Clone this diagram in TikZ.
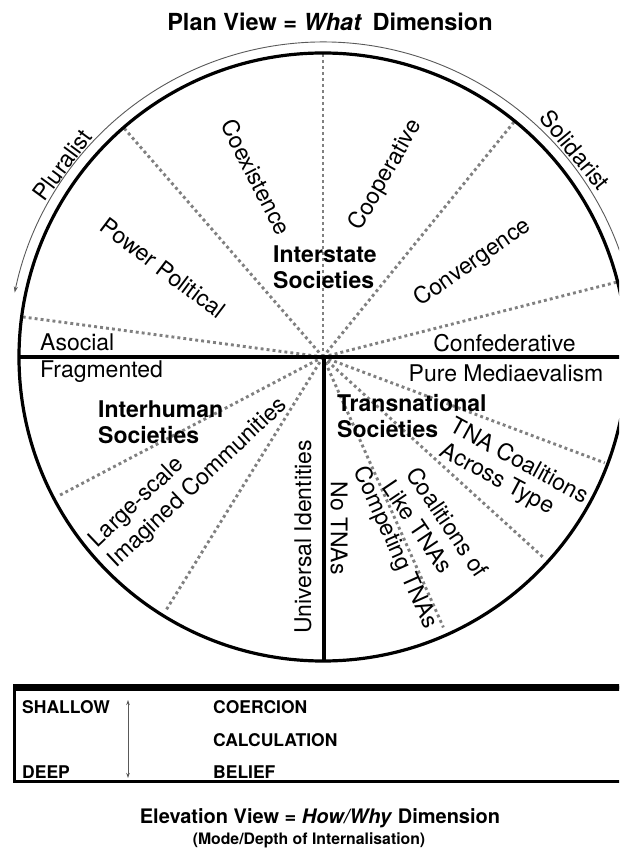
\documentclass[tikz,border=0pt]{standalone}
\usepackage{fontspec}
\setmainfont{TeX Gyre Heros}
\usetikzlibrary{arrows.meta}
\begin{document}
\begin{tikzpicture}[x=1pt,y=1pt,
  lbl/.style={inner sep=0pt, font=\fontsize{23}{27}\selectfont},
  grp/.style={inner sep=0pt, align=left, font=\fontsize{23}{26}\selectfont\bfseries},
  spoke/.style={draw=black!50, line width=2.9pt, dash pattern=on 2.9pt off 3.1pt},
  heavy/.style={line width=4.5pt},
  rim/.style={line width=3.2pt},
  thinarrow/.style={draw=black!65, line width=0.9pt},
  boxtxt/.style={inner sep=0pt, anchor=west, font=\fontsize{17.5}{20}\selectfont\bfseries},
  title/.style={inner sep=0pt, font=\fontsize{23.5}{27}\selectfont\bfseries}]
\useasboundingbox (-323,357) rectangle (296,-504);
\clip (-323,357) rectangle (296,-504);
\coordinate (C) at (0,0);
% spokes
\foreach \a/\r [count=\i] in {14.3/303, 50.9/303, 90/303, 131/303, 172.4/303, 207.7/298, 238.2/298, -20.6/301, -42.3/299, -66/296}
  {\coordinate (s\i) at (\a:\r); \draw[spoke] (C) -- (s\i);}
% rim
\draw[rim] (C) circle (304);
\coordinate (hW) at (-305,0);
\coordinate (hE) at (310,0);
\draw[heavy] (hW) -- (hE);
\coordinate (vT) at (1,0);
\coordinate (vB) at (1,-305);
\draw[heavy] (vT) -- (vB);
% thin outer arc
\coordinate (arcR) at (12:315);
\draw[thinarrow, -{Stealth[length=6pt,width=4pt]}] (arcR) arc[start angle=12, end angle=168.2, radius=315];
% arc labels
\node[lbl, rotate=53.5] (plur) at (-261,192) {Pluralist};
\node[lbl, rotate=-50.5] (soli) at (252,207) {Solidarist};
% interstate
\node[lbl, rotate=-63] (coex) at (-67,180) {Coexistence};
\node[lbl, rotate=60.5] (coop) at (63,182) {Cooperative};
\node[lbl, rotate=-37] (powp) at (-160,89) {Power Political};
\node[lbl, rotate=35] (conv) at (150,94) {Convergence};
\node[lbl, anchor=west] (asoc) at (-283,15) {Asocial};
\node[lbl] (conf) at (181.5,14) {Confederative};
\node[grp, anchor=west] (inter) at (-50,89.5) {Interstate\\Societies};
% interhuman
\node[lbl, anchor=west] (frag) at (-283,-15) {Fragmented};
\node[grp, anchor=west] (ihum) at (-225,-65) {Interhuman\\Societies};
\node[lbl, rotate=43.5] (lsc) at (-186,-146) {Large-scale};
\node[lbl, rotate=43.3] (imc) at (-125,-126) {Imagined Communities};
\node[lbl, rotate=90] (univ) at (-20,-180) {Universal Identities};
% transnational
\node[lbl] (pure) at (183,-16) {Pure Mediaevalism};
\node[grp, anchor=west] (tran) at (14,-59) {Transnational\\Societies};
\node[lbl, rotate=-90] (notna) at (16,-171) {No TNAs};
\node[lbl, rotate=-66] (comp) at (72,-191) {Competing TNAs};
\node[lbl, rotate=-56] (like) at (95,-170) {Like TNAs};
\node[lbl, rotate=-56] (coal) at (125,-165) {Coalitions of};
\node[lbl, rotate=-28.5] (tnac) at (197,-103) {TNA Coalitions};
\node[lbl, rotate=-28] (acro) at (174,-123) {Across Type};
% titles
\node[title] (plan) at (7,335) {Plan View = \textit{What}\, Dimension};
% elevation box
\coordinate (bxA) at (-308,-330);
\coordinate (bxB) at (340,-424);
\draw[line width=3pt] (bxA) rectangle (bxB);
\coordinate (bxL) at (-309.5,-330);
\coordinate (bxR) at (340,-330);
\draw[line width=7pt] (bxL) -- (bxR);
\node[boxtxt] (shal) at (-301,-350) {SHALLOW};
\node[boxtxt] (deep) at (-301,-415) {DEEP};
\coordinate (arT) at (-195,-343);
\coordinate (arB) at (-195,-421);
\draw[thinarrow, {Stealth[length=5pt,width=3.5pt]}-{Stealth[length=5pt,width=3.5pt]}] (arT) -- (arB);
\node[boxtxt] (coer) at (-110,-350) {COERCION};
\node[boxtxt] (calc) at (-110,-383) {CALCULATION};
\node[boxtxt] (beli) at (-110,-415) {BELIEF};
\node[title, font=\fontsize{20}{24}\selectfont\bfseries] (elev) at (-3,-461) {Elevation View = \textit{How/Why} Dimension};
\node[inner sep=0pt, font=\fontsize{15.8}{18}\selectfont\bfseries] (mode) at (-14,-483) {(Mode/Depth of Internalisation)};
\end{tikzpicture}
\end{document}
